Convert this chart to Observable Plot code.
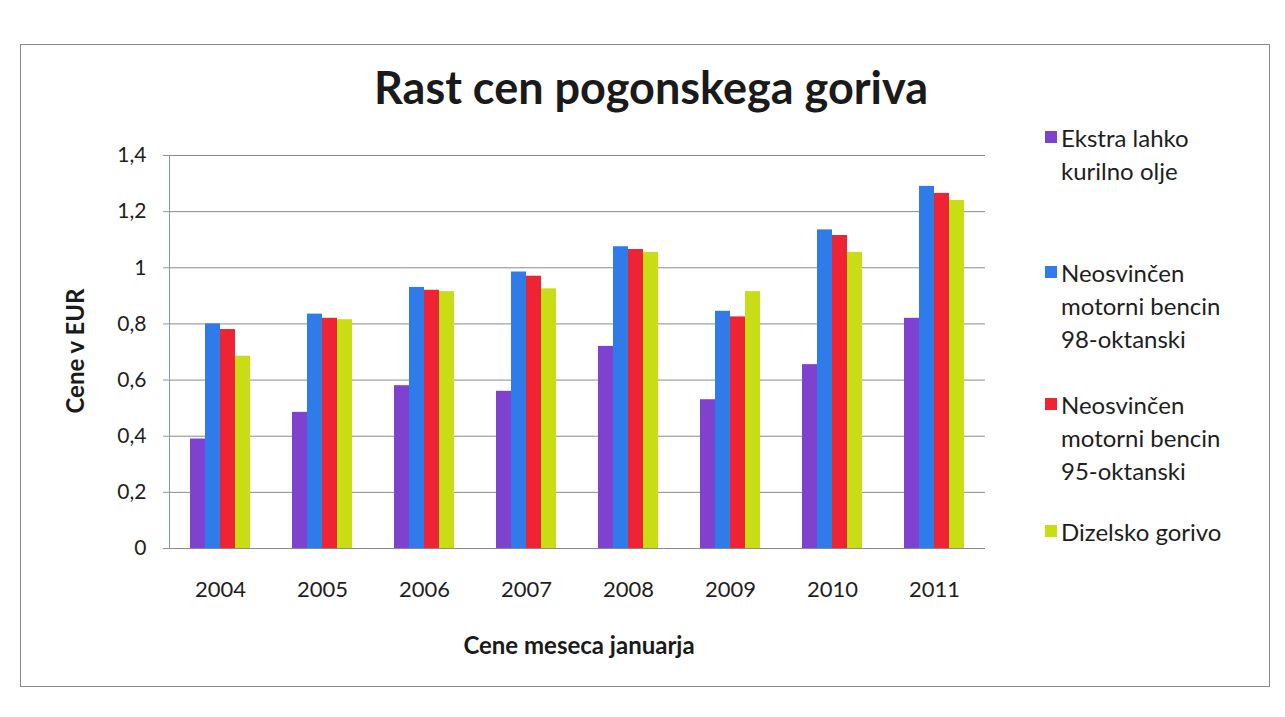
<!DOCTYPE html>
<html>
<head>
<meta charset="utf-8">
<script src="https://cdn.jsdelivr.net/npm/d3@7"></script>
<script src="https://cdn.jsdelivr.net/npm/@observablehq/plot@0.6"></script>
<style>
  html, body { margin: 0; padding: 0; background: #fff; }
  #wrap { position: relative; width: 1285px; height: 717px; overflow: hidden; font-family: Lato, "Open Sans", sans-serif; color: #222; }
  #frame { position: absolute; left: 20px; top: 44px; width: 1250px; height: 643px; border: 1px solid #8a8a8a; box-sizing: border-box; }
  #title { position: absolute; left: 251px; width: 800px; top: 58px; text-align: center; font-weight: 700; font-size: 45px; line-height: 58px; color: #1a1a1a; }
  #ytitle { position: absolute; left: 74px; top: 351px; transform: translate(-50%, -50%) rotate(-90deg); white-space: nowrap; font-weight: 700; font-size: 24px; color: #1a1a1a; }
  #xtitle { position: absolute; left: 579px; top: 644px; transform: translate(-50%, -50%); white-space: nowrap; font-weight: 700; font-size: 24px; color: #1a1a1a; }
  #chart { position: absolute; left: 0; top: 0; }
  .leg { position: absolute; left: 1045px; font-size: 24px; line-height: 33px; color: #1e1e1e; }
  .leg .sw { position: absolute; left: 0; top: 10px; width: 12px; height: 12px; }
  .leg .tx { position: absolute; left: 16px; top: 0; white-space: nowrap; }
</style>
</head>
<body>
<div id="wrap">
  <div id="frame"></div>
  <div id="title">Rast cen pogonskega goriva</div>
  <div id="chart"></div>
  <div id="ytitle">Cene v EUR</div>
  <div id="xtitle">Cene meseca januarja</div>
  <div id="legend"></div>
</div>
<script>
// ---- data ----
const years = ["2004", "2005", "2006", "2007", "2008", "2009", "2010", "2011"];
const seriesNames = [
  "Ekstra lahko kurilno olje",
  "Neosvinčen motorni bencin 98-oktanski",
  "Neosvinčen motorni bencin 95-oktanski",
  "Dizelsko gorivo"
];
const legendLines = [
  ["Ekstra lahko", "kurilno olje"],
  ["Neosvinčen", "motorni bencin", "98-oktanski"],
  ["Neosvinčen", "motorni bencin", "95-oktanski"],
  ["Dizelsko gorivo"]
];
const kurilnoOlje = [0.39, 0.485, 0.58, 0.56, 0.72, 0.53, 0.655, 0.82];
const bencin98    = [0.80, 0.835, 0.93, 0.985, 1.075, 0.845, 1.135, 1.29];
const bencin95    = [0.78, 0.82, 0.92, 0.97, 1.065, 0.825, 1.115, 1.265];
const dizel       = [0.685, 0.815, 0.915, 0.925, 1.055, 0.915, 1.055, 1.24];
const yTicks = [0, 0.2, 0.4, 0.6, 0.8, 1, 1.2, 1.4];
const colors = ["#7f42cf", "#2f7be9", "#ee2333", "#c8dd14"];

// ---- build long table ----
const seriesValues = [kurilnoOlje, bencin98, bencin95, dizel];
const rows = [];
years.forEach((yr, i) => {
  seriesNames.forEach((s, j) => rows.push({year: yr, series: s, value: seriesValues[j][i]}));
});

const fmt = d => String(+d.toFixed(1)).replace(".", ",");

const chart = Plot.plot({
  width: 1000,
  height: 717,
  marginLeft: 169,
  marginRight: 15,
  marginTop: 155,
  marginBottom: 169,
  style: {fontFamily: "Lato, 'Open Sans', sans-serif", color: "#1e1e1e", background: "transparent"},
  fx: {domain: years, padding: 0, label: null, axis: null},
  x: {domain: seriesNames, paddingInner: 0, paddingOuter: 1.4, axis: null},
  y: {domain: [0, 1.4], axis: null},
  color: {domain: seriesNames, range: colors},
  marks: [
    Plot.ruleY(yTicks, {stroke: "#8a8a8a", strokeWidth: 1}),
    Plot.barY(rows, {fx: "year", x: "series", y: "value", fill: "series"}),
    Plot.axisY(yTicks, {tickSize: 6, tickPadding: 17, tickFormat: fmt, fontSize: 21, stroke: "#8a96b0", label: null}),
    Plot.axisFx({anchor: "bottom", tickSize: 0, tickPadding: 33, fontSize: 22, label: null}),
    Plot.frame({anchor: "left", stroke: "#8a96b0", facetAnchor: "left"})
  ]
});
document.getElementById("chart").appendChild(chart);

// ---- legend ----
const legendTops = [121, 256, 388, 515];
const legend = document.getElementById("legend");
seriesNames.forEach((s, j) => {
  const item = document.createElement("div");
  item.className = "leg";
  item.style.top = legendTops[j] + "px";
  const sw = document.createElement("div");
  sw.className = "sw";
  sw.style.background = colors[j];
  const tx = document.createElement("div");
  tx.className = "tx";
  tx.innerHTML = legendLines[j].join("<br>");
  item.appendChild(sw);
  item.appendChild(tx);
  legend.appendChild(item);
});
</script>
</body>
</html>
